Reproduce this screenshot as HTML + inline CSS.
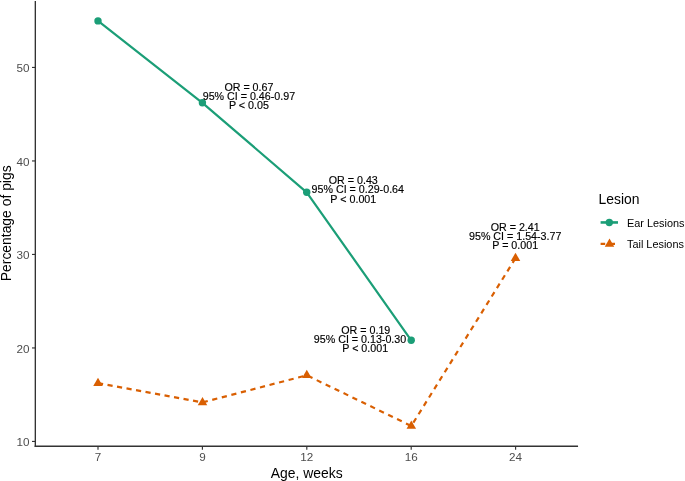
<!DOCTYPE html>
<html><head><meta charset="utf-8"><title>Lesion chart</title>
<style>
html,body{margin:0;padding:0;background:#fff;}
svg{display:block;font-family:"Liberation Sans",Arial,sans-serif;}
.tk{font-size:11.7px;fill:#4d4d4d;}
.an{font-size:10.7px;fill:#000;text-anchor:middle;stroke:#000;stroke-width:0.15px;}
.ti{font-size:13.9px;fill:#000;}
.lg{font-size:10.9px;fill:#000;}
</style></head><body>
<svg width="685" height="481" viewBox="0 0 685 481">
<rect width="685" height="481" fill="#fff"/>

<g stroke="#333" fill="none">
<path d="M35.33 0.9V447" stroke-width="1.35"/><path d="M34.65 446.3H578.05" stroke-width="1.4"/>
<path d="M32 441.45H35.3" stroke-width="1.15"/>
<path d="M32 347.95H35.3" stroke-width="1.15"/>
<path d="M32 254.45H35.3" stroke-width="1.15"/>
<path d="M32 160.95H35.3" stroke-width="1.15"/>
<path d="M32 67.45H35.3" stroke-width="1.15"/>
<path d="M98.0 446V449.7" stroke-width="1.15"/>
<path d="M202.4 446V449.7" stroke-width="1.15"/>
<path d="M306.8 446V449.7" stroke-width="1.15"/>
<path d="M411.2 446V449.7" stroke-width="1.15"/>
<path d="M515.6 446V449.7" stroke-width="1.15"/>
</g>
<text class="tk" x="29.5" y="446.1" text-anchor="end">10</text>
<text class="tk" x="29.5" y="352.6" text-anchor="end">20</text>
<text class="tk" x="29.5" y="259.1" text-anchor="end">30</text>
<text class="tk" x="29.5" y="165.6" text-anchor="end">40</text>
<text class="tk" x="29.5" y="72.1" text-anchor="end">50</text>
<text class="tk" x="98.0" y="460.5" text-anchor="middle">7</text>
<text class="tk" x="202.4" y="460.5" text-anchor="middle">9</text>
<text class="tk" x="306.8" y="460.5" text-anchor="middle">12</text>
<text class="tk" x="411.2" y="460.5" text-anchor="middle">16</text>
<text class="tk" x="515.6" y="460.5" text-anchor="middle">24</text>
<text class="ti" x="306.7" y="478" text-anchor="middle">Age, weeks</text>
<text class="ti" transform="translate(10.5 223.3) rotate(-90)" text-anchor="middle">Percentage of pigs</text>
<polyline points="98.0,20.9 202.4,102.8 306.7,192.3 411.2,340.3" fill="none" stroke="#1B9E77" stroke-width="2.2" stroke-linejoin="round"/>
<line x1="98.0" y1="383.2" x2="202.5" y2="402.4" stroke="#D95F02" stroke-width="2.2" stroke-dasharray="5.2 4.46" stroke-dashoffset="-0.0"/>
<line x1="202.5" y1="402.4" x2="306.8" y2="375.3" stroke="#D95F02" stroke-width="2.2" stroke-dasharray="5.2 4.66" stroke-dashoffset="-0.22"/>
<line x1="306.8" y1="375.3" x2="411.3" y2="426.0" stroke="#D95F02" stroke-width="2.2" stroke-dasharray="5.2 4.72" stroke-dashoffset="-1.13"/>
<line x1="411.3" y1="426.0" x2="515.5" y2="258.2" stroke="#D95F02" stroke-width="2.2" stroke-dasharray="5.2 4.70" stroke-dashoffset="-3.9"/>
<circle cx="98.0" cy="20.9" r="3.7" fill="#1B9E77"/>
<circle cx="202.4" cy="102.8" r="3.7" fill="#1B9E77"/>
<circle cx="306.7" cy="192.3" r="3.7" fill="#1B9E77"/>
<circle cx="411.2" cy="340.3" r="3.7" fill="#1B9E77"/>
<path d="M98.00 377.70L102.76 385.95H93.24Z" fill="#D95F02"/>
<path d="M202.50 396.90L207.26 405.15H197.74Z" fill="#D95F02"/>
<path d="M306.80 369.80L311.56 378.05H302.04Z" fill="#D95F02"/>
<path d="M411.30 420.50L416.06 428.75H406.54Z" fill="#D95F02"/>
<path d="M515.50 252.70L520.26 260.95H510.74Z" fill="#D95F02"/>
<text class="an" x="248.9" y="90.8">OR = 0.67</text>
<text class="an" x="248.9" y="100.1">95% CI = 0.46-0.97</text>
<text class="an" x="248.9" y="109.4">P &lt; 0.05</text>
<text class="an" x="353.3" y="183.9">OR = 0.43</text>
<text class="an" x="357.8" y="193.2">95% CI = 0.29-0.64</text>
<text class="an" x="353.3" y="202.5">P &lt; 0.001</text>
<text class="an" x="365.8" y="333.5">OR = 0.19</text>
<text class="an" x="360" y="342.8">95% CI = 0.13-0.30</text>
<text class="an" x="365.2" y="352.1">P &lt; 0.001</text>
<text class="an" x="515.2" y="230.5">OR = 2.41</text>
<text class="an" x="515.2" y="239.8">95% CI = 1.54-3.77</text>
<text class="an" x="515.2" y="249.1">P = 0.001</text>
<text class="ti" x="598.5" y="203.7">Lesion</text>
<path d="M600.6 222.45H618" stroke="#1B9E77" stroke-width="2.6"/><circle cx="609.3" cy="222.5" r="3.7" fill="#1B9E77"/>
<path d="M600.6 243.9H618" stroke="#D95F02" stroke-width="2.2" stroke-dasharray="4.6 5.2"/>
<path d="M609.50 238.45L614.26 246.70H604.74Z" fill="#D95F02"/>
<text class="lg" x="627" y="226.6">Ear Lesions</text>
<text class="lg" x="627" y="248.2">Tail Lesions</text>
</svg></body></html>
